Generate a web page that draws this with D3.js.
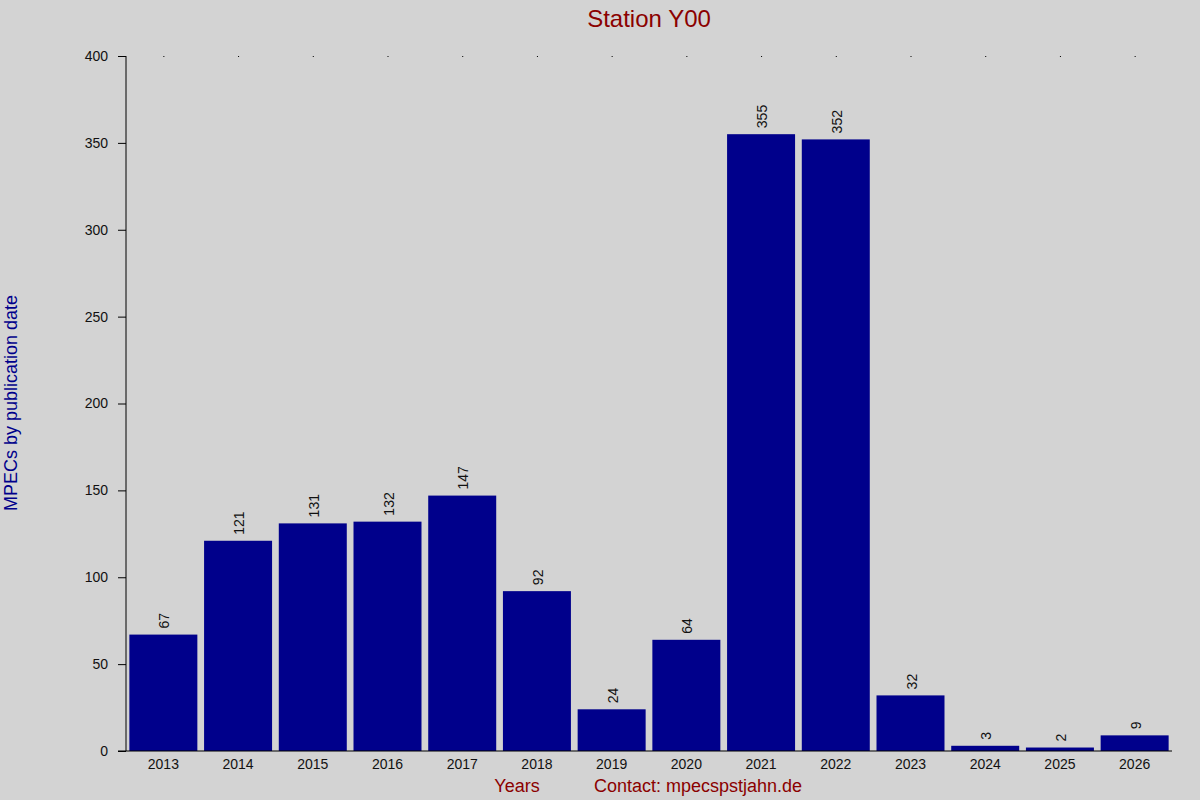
<!DOCTYPE html>
<html><head><meta charset="utf-8">
<script src="https://cdn.jsdelivr.net/npm/d3@7"></script>
<style>body{margin:0;background:#d3d3d3}text{font-family:"Liberation Sans",Arial,sans-serif}</style>
</head><body>
<svg id="c" width="1200" height="800"></svg>
<script>
// chart data
var years = ["2013","2014","2015","2016","2017","2018","2019","2020","2021","2022","2023","2024","2025","2026"];
var counts = [67,121,131,132,147,92,24,64,355,352,32,3,2,9];
var yTicks = [0,50,100,150,200,250,300,350,400];

var svg = d3.select("#c"),
    plotLeft = 126, plotRight = 1172, plotTop = 56, plotBottom = 751;

svg.append("rect").attr("width",1200).attr("height",800).attr("fill","#d3d3d3");

var x = d3.scaleBand().domain(years).range([plotLeft, plotRight]).paddingInner(0.09).paddingOuter(0.045);
var y = d3.scaleLinear().domain([0,400]).range([plotBottom, plotTop]);

// bars
svg.selectAll("rect.bar").data(counts).enter().append("rect")
    .attr("class","bar")
    .attr("x", function(d,i){ return x(years[i]); })
    .attr("y", function(d){ return y(d); })
    .attr("width", x.bandwidth())
    .attr("height", function(d){ return plotBottom - y(d); })
    .attr("fill","#00008b");

// value labels, rotated
svg.selectAll("text.val").data(counts).enter().append("text")
    .attr("class","val")
    .attr("transform", function(d,i){ return "translate(" + (x(years[i]) + x.bandwidth()/2 + 6) + "," + (y(d) - 6) + ") rotate(-90)"; })
    .attr("font-size",14).attr("fill","#111")
    .text(function(d){ return d; });

// left axis
var ya = svg.append("g").attr("transform","translate(" + plotLeft + ",0)")
    .call(d3.axisLeft(y).tickValues(yTicks).tickSize(8).tickPadding(10));
ya.select(".domain").attr("d","M0," + plotTop + "V" + plotBottom).attr("stroke","#000");
ya.selectAll("line").attr("stroke","#000");
ya.selectAll("text").attr("font-size",14).attr("fill","#111").attr("font-family","Liberation Sans, Arial");

// bottom axis
var xa = svg.append("g").attr("transform","translate(0," + plotBottom + ")")
    .call(d3.axisBottom(x).tickSize(0).tickPadding(8));
xa.select(".domain").attr("d","M" + (plotLeft-8) + ",0H" + plotRight).attr("stroke","#000");
xa.selectAll("text").attr("font-size",14).attr("fill","#111").attr("font-family","Liberation Sans, Arial");

// tiny dots at top
svg.selectAll("rect.dot").data(years).enter().append("rect")
    .attr("class","dot")
    .attr("x", function(d){ return x(d) + x.bandwidth()/2; })
    .attr("y", plotTop).attr("width",1).attr("height",1).attr("fill","#000");

// titles
svg.append("text").attr("x",649).attr("y",27).attr("text-anchor","middle")
    .attr("font-size",24).attr("fill","#8b0000").text("Station Y00");
svg.append("text").attr("x",517).attr("y",792).attr("text-anchor","middle")
    .attr("font-size",18).attr("fill","#8b0000").text("Years");
svg.append("text").attr("x",698).attr("y",792).attr("text-anchor","middle")
    .attr("font-size",18).attr("fill","#8b0000").text("Contact: mpecspstjahn.de");
svg.append("text").attr("transform","translate(17,403) rotate(-90)").attr("text-anchor","middle")
    .attr("font-size",18).attr("fill","#00008b").text("MPECs by publication date");
</script>
</body></html>
